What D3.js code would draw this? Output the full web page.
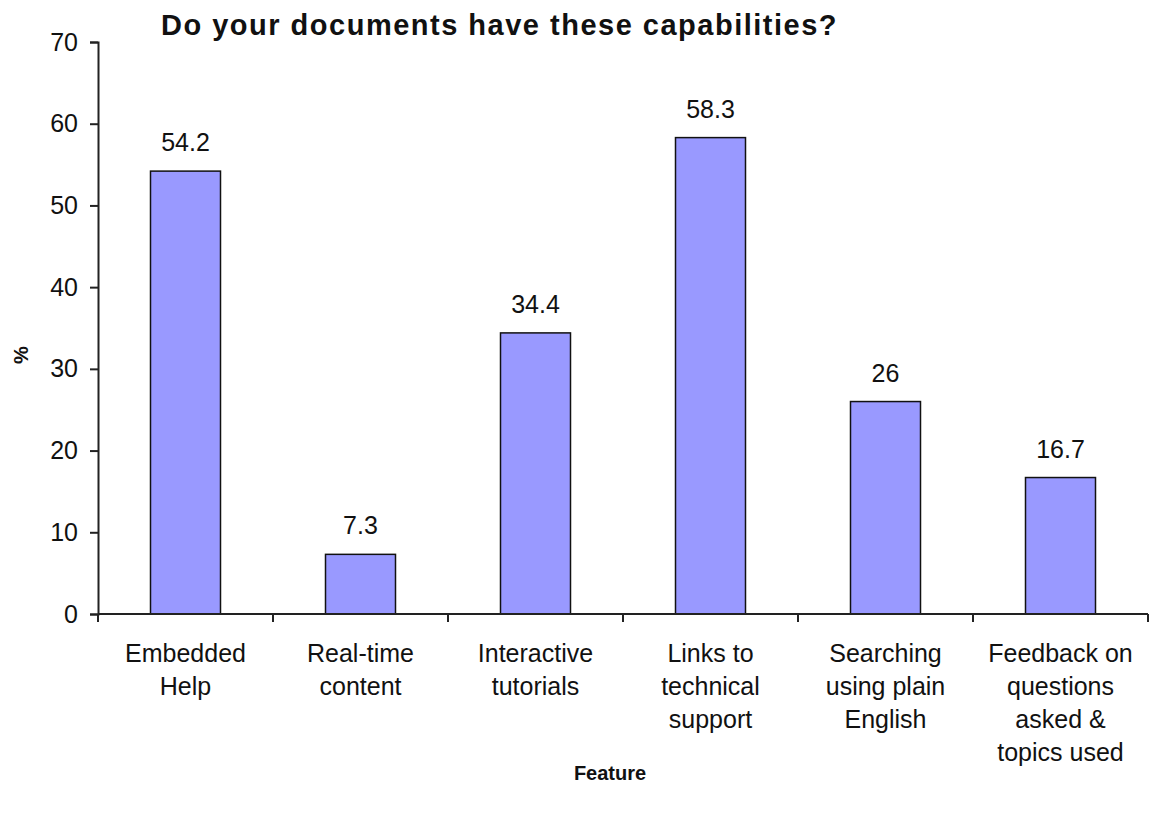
<!DOCTYPE html>
<html>
<head>
<meta charset="utf-8">
<script src="https://cdnjs.cloudflare.com/ajax/libs/d3/7.8.5/d3.min.js"></script>
<style>
  body { margin: 0; background: #fff; }
  svg text { font-family: "Liberation Sans", Arial, sans-serif; fill: #111; }
</style>
</head>
<body>
<div id="chart"></div>
<script>
// chart data
var categories = [
  ["Embedded", "Help"],
  ["Real-time", "content"],
  ["Interactive", "tutorials"],
  ["Links to", "technical", "support"],
  ["Searching", "using plain", "English"],
  ["Feedback on", "questions", "asked &", "topics used"]
];
var values = [54.2, 7.3, 34.4, 58.3, 26, 16.7];
var yTicks = [0, 10, 20, 30, 40, 50, 60, 70];

var w = 1152, h = 814;
var m = { left: 98, right: 1148, top: 42, bottom: 614 };

var svg = d3.select("#chart").append("svg")
  .attr("width", w)
  .attr("height", h);

var x = d3.scaleBand()
  .domain(d3.range(values.length))
  .range([m.left, m.right])
  .paddingInner(0.6)
  .paddingOuter(0.3);

var y = d3.scaleLinear().domain([0, 70]).range([m.bottom, m.top]);

// bars
svg.selectAll("rect.bar")
  .data(values)
  .enter().append("rect")
  .attr("class", "bar")
  .attr("x", function(d, i) { return x(i); })
  .attr("y", function(d) { return y(d); })
  .attr("width", x.bandwidth())
  .attr("height", function(d) { return y(0) - y(d); })
  .attr("fill", "#9999FF")
  .attr("stroke", "#111")
  .attr("stroke-width", 1.5);

// value labels
svg.selectAll("text.val")
  .data(values)
  .enter().append("text")
  .attr("class", "val")
  .attr("x", function(d, i) { return x(i) + x.bandwidth() / 2; })
  .attr("y", function(d) { return y(d) - 20; })
  .attr("text-anchor", "middle")
  .style("font-size", "25px")
  .text(function(d) { return d; });

// y axis
var yAxis = d3.axisLeft(y).tickValues(yTicks).tickSize(8).tickPadding(12);
var gy = svg.append("g").attr("transform", "translate(" + m.left + ",0)").call(yAxis);
gy.select(".domain").attr("stroke", "#222").attr("stroke-width", 2);
gy.selectAll(".tick line").attr("stroke", "#222").attr("stroke-width", 2);
gy.selectAll(".tick text").style("font-size", "25px").attr("fill", "#111");

// x axis line + ticks at category boundaries
var bounds = d3.range(values.length + 1).map(function(i) {
  return m.left + i * (m.right - m.left) / values.length;
});
svg.append("line")
  .attr("x1", m.left).attr("x2", m.right)
  .attr("y1", m.bottom).attr("y2", m.bottom)
  .attr("stroke", "#222").attr("stroke-width", 2);
svg.selectAll("line.xt")
  .data(bounds)
  .enter().append("line")
  .attr("class", "xt")
  .attr("x1", function(d) { return d; }).attr("x2", function(d) { return d; })
  .attr("y1", m.bottom).attr("y2", m.bottom + 8)
  .attr("stroke", "#222").attr("stroke-width", 2);

// category labels
var cat = svg.selectAll("text.cat")
  .data(categories)
  .enter().append("text")
  .attr("class", "cat")
  .attr("text-anchor", "middle")
  .style("font-size", "25px");
cat.selectAll("tspan")
  .data(function(d, i) { return d.map(function(s) { return { s: s, i: i }; }); })
  .enter().append("tspan")
  .attr("x", function(d) { return x(d.i) + x.bandwidth() / 2; })
  .attr("y", function(d, j) { return 662 + j * 33; })
  .text(function(d) { return d.s; });

// title
svg.append("text")
  .attr("x", 161).attr("y", 35)
  .style("font-size", "29px")
  .style("font-weight", "bold")
  .style("letter-spacing", "1.5px")
  .attr("fill", "#000")
  .text("Do your documents have these capabilities?");

// axis titles
svg.append("text")
  .attr("x", 610).attr("y", 780)
  .attr("text-anchor", "middle")
  .style("font-size", "20px")
  .style("font-weight", "bold")
  .text("Feature");

svg.append("text")
  .attr("transform", "translate(28,355) rotate(-90)")
  .attr("text-anchor", "middle")
  .style("font-size", "20px")
  .style("font-weight", "bold")
  .text("%");
</script>
</body>
</html>
